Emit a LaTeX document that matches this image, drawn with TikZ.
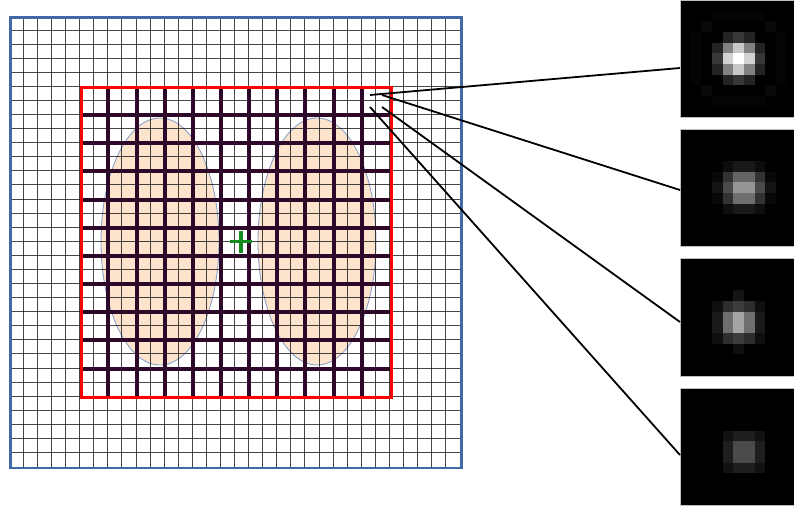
\documentclass[tikz,border=0pt]{standalone}
\usetikzlibrary{shapes.geometric}
\definecolor{bluebox}{RGB}{65,105,165}
\definecolor{thickc}{RGB}{45,8,40}
\definecolor{peach}{RGB}{252,228,205}
\definecolor{blobedge}{RGB}{130,155,200}
\definecolor{plusgreen}{RGB}{20,140,30}
\tikzset{
  finegrid/.style={line width=1.2pt, draw=black, draw opacity=0.72},
  thickgrid/.style={line width=4pt, draw=thickc},
  outerbox/.style={line width=2.6pt, draw=bluebox},
  roibox/.style={line width=3pt, draw=red},
  blob/.style={ellipse, draw=blobedge, line width=0.8pt, fill=peach, inner sep=0pt},
  panel/.style={rectangle, fill=black, draw=black!25, line width=0.8pt, anchor=north west, minimum width=117.3pt, minimum height=117.3pt, inner sep=0pt},
  link/.style={line width=1.8pt, draw=black},
  plusmark/.style={line width=3.5pt, draw=plusgreen}
}
\newcommand\pixpanel[2]{%
  \foreach \c/\r/\v in {#2}{%
    \definecolor{pixc}{RGB}{\v,\v,\v}%
    \fill[pixc] ({680+\c*10.67},{#1+\r*10.67}) rectangle ++(10.67,10.67);}}
\begin{document}
\begin{tikzpicture}[x=1pt,y=-1pt]
\useasboundingbox (0,0) rectangle (794,506);
\fill[white] (0,0) rectangle (794,506);
% blobs
\node[blob, minimum width=118pt, minimum height=247pt] (e1) at (160,241.5) {};
\node[blob, minimum width=118pt, minimum height=247pt] (e2) at (317,241.5) {};
% fine grid (snapped to pixel centres)
\foreach \i in {1,...,31}{
  \pgfmathsetmacro\gx{floor(9.3+\i*14.08)+0.5}
  \pgfmathsetmacro\gy{floor(16+\i*14.08)+0.5}
  \draw[finegrid] (\gx,16) -- (\gx,466.6);
  \draw[finegrid] (9.3,\gy) -- (459.9,\gy);
}
\node[outerbox, rectangle, minimum width=450.6pt, minimum height=450.6pt, inner sep=0pt, anchor=north west] (outer) at (9.3,16) {};
% thick grid inside ROI
\foreach \i in {7,9,...,25}{
  \pgfmathsetmacro\gx{floor(9.3+\i*14.08)+1}
  \pgfmathsetmacro\gy{floor(16+\i*14.08)+1}
  \draw[thickgrid] (\gx,86.4) -- (\gx,396.2);
  \draw[thickgrid] (79.7,\gy) -- (389.5,\gy);
}
\node[roibox, rectangle, minimum width=309.8pt, minimum height=309.8pt, inner sep=0pt, anchor=north west] (roi) at (79.7,86.4) {};
% centre mark
\coordinate (ctr) at (241,241.5);
\draw[plusmark] ([xshift=-11pt]ctr) -- ([xshift=11pt]ctr);
\draw[plusmark] ([yshift=-11pt]ctr) -- ([yshift=11pt]ctr);
% panels
\begin{scope}
\clip (0,0) rectangle (794,506);
\node[panel] (p1) at (680,0) {};
\node[panel] (p2) at (680,129) {};
\node[panel] (p3) at (680,258.3) {};
\node[panel] (p4) at (680,388) {};
\pixpanel{0}{3/1/4,4/1/4,5/1/4,6/1/4,7/1/4,3/9/4,4/9/4,5/9/4,6/9/4,7/9/4,
  1/3/4,1/4/4,1/5/4,1/6/4,1/7/4,9/3/4,9/4/4,9/5/4,9/6/4,9/7/4,
  2/2/9,8/2/9,2/8/9,8/8/9,
  4/3/35,5/3/55,6/3/35,
  3/4/35,4/4/130,5/4/200,6/4/130,7/4/35,
  3/5/55,4/5/210,5/5/255,6/5/210,7/5/55,
  3/6/35,4/6/130,5/6/200,6/6/130,7/6/35,
  4/7/35,5/7/55,6/7/35}
\pixpanel{129}{4/3/12,5/3/25,6/3/25,7/3/12,
  3/4/8,4/4/50,5/4/100,6/4/100,7/4/50,8/4/8,
  3/5/20,4/5/75,5/5/150,6/5/150,7/5/75,8/5/20,
  3/6/8,4/6/50,5/6/110,6/6/110,7/6/50,8/6/8,
  4/7/15,5/7/25,6/7/25,7/7/15}
\pixpanel{258.3}{5/3/20,
  3/4/15,4/4/45,5/4/60,6/4/45,7/4/15,
  3/5/25,4/5/110,5/5/165,6/5/110,7/5/25,
  3/6/25,4/6/110,5/6/165,6/6/110,7/6/25,
  3/7/15,4/7/45,5/7/60,6/7/45,7/7/15,
  5/8/15}
\pixpanel{388}{5/5/75,6/5/75,5/6/75,6/6/75,
  4/5/30,4/6/30,7/5/30,7/6/30,5/4/30,6/4/30,5/7/30,6/7/30,
  4/4/18,7/4/18,4/7/18,7/7/18}
\end{scope}
% connectors
\coordinate (s1) at (370,95);
\coordinate (s2) at (382,95);
\coordinate (s3) at (382,107);
\coordinate (s4) at (370,107);
\coordinate (t1) at (680,68);
\coordinate (t2) at (680,190);
\coordinate (t3) at (680,322);
\coordinate (t4) at (680,455);
\draw[link] (s1) -- (t1);
\draw[link] (s2) -- (t2);
\draw[link] (s3) -- (t3);
\draw[link] (s4) -- (t4);
\end{tikzpicture}
\end{document}
